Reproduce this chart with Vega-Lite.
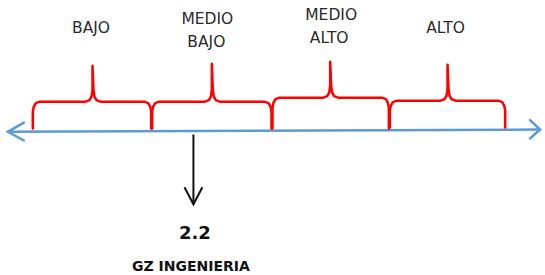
{
  "$schema": "https://vega.github.io/schema/vega-lite/v6.json",
  "width": 545,
  "height": 275,
  "autosize": {"type": "fit", "contains": "padding"},
  "padding": 0,
  "background": "#ffffff",
  "config": {"view": {"stroke": null}},
  "datasets": {
    "axis": [
      {"seg": "line", "o": 1, "x": 8, "y": 132.3},
      {"seg": "line", "o": 2, "x": 543, "y": 130},
      {"seg": "left", "o": 1, "x": 24, "y": 123},
      {"seg": "left", "o": 2, "x": 8, "y": 132.3},
      {"seg": "left", "o": 3, "x": 24, "y": 141},
      {"seg": "right", "o": 1, "x": 533, "y": 120.5},
      {"seg": "right", "o": 2, "x": 543, "y": 130},
      {"seg": "right", "o": 3, "x": 533, "y": 139}
    ],
    "braces": [
      {"b": 1, "o": 1, "x": 33, "y": 129}, {"b": 1, "o": 2, "x": 33, "y": 112}, {"b": 1, "o": 3, "x": 34, "y": 107}, {"b": 1, "o": 4, "x": 36, "y": 103.5}, {"b": 1, "o": 5, "x": 40, "y": 102},
      {"b": 1, "o": 6, "x": 86, "y": 102}, {"b": 1, "o": 7, "x": 90, "y": 100.5}, {"b": 1, "o": 8, "x": 92, "y": 97}, {"b": 1, "o": 9, "x": 93, "y": 90}, {"b": 1, "o": 10, "x": 93, "y": 66},
      {"b": 1, "o": 11, "x": 94, "y": 90}, {"b": 1, "o": 12, "x": 95, "y": 97}, {"b": 1, "o": 13, "x": 97, "y": 100.5}, {"b": 1, "o": 14, "x": 101, "y": 102}, {"b": 1, "o": 15, "x": 145, "y": 102},
      {"b": 1, "o": 16, "x": 149, "y": 103.5}, {"b": 1, "o": 17, "x": 151, "y": 107}, {"b": 1, "o": 18, "x": 152, "y": 112}, {"b": 1, "o": 19, "x": 152, "y": 129},

      {"b": 2, "o": 1, "x": 153, "y": 129}, {"b": 2, "o": 2, "x": 153, "y": 112}, {"b": 2, "o": 3, "x": 154, "y": 107}, {"b": 2, "o": 4, "x": 156, "y": 103.5}, {"b": 2, "o": 5, "x": 160, "y": 102},
      {"b": 2, "o": 6, "x": 206, "y": 102}, {"b": 2, "o": 7, "x": 210, "y": 100.5}, {"b": 2, "o": 8, "x": 212, "y": 97}, {"b": 2, "o": 9, "x": 213, "y": 90}, {"b": 2, "o": 10, "x": 213, "y": 64},
      {"b": 2, "o": 11, "x": 214, "y": 90}, {"b": 2, "o": 12, "x": 215, "y": 97}, {"b": 2, "o": 13, "x": 217, "y": 100.5}, {"b": 2, "o": 14, "x": 221, "y": 102}, {"b": 2, "o": 15, "x": 266, "y": 102},
      {"b": 2, "o": 16, "x": 270, "y": 103.5}, {"b": 2, "o": 17, "x": 272, "y": 107}, {"b": 2, "o": 18, "x": 273, "y": 112}, {"b": 2, "o": 19, "x": 273, "y": 129},

      {"b": 3, "o": 1, "x": 274, "y": 129}, {"b": 3, "o": 2, "x": 274, "y": 108}, {"b": 3, "o": 3, "x": 275, "y": 103}, {"b": 3, "o": 4, "x": 277, "y": 99.5}, {"b": 3, "o": 5, "x": 281, "y": 98},
      {"b": 3, "o": 6, "x": 325, "y": 98}, {"b": 3, "o": 7, "x": 329, "y": 96.5}, {"b": 3, "o": 8, "x": 331, "y": 93}, {"b": 3, "o": 9, "x": 332, "y": 86}, {"b": 3, "o": 10, "x": 332, "y": 62},
      {"b": 3, "o": 11, "x": 333, "y": 86}, {"b": 3, "o": 12, "x": 334, "y": 93}, {"b": 3, "o": 13, "x": 336, "y": 96.5}, {"b": 3, "o": 14, "x": 340, "y": 98}, {"b": 3, "o": 15, "x": 384, "y": 98},
      {"b": 3, "o": 16, "x": 388, "y": 99.5}, {"b": 3, "o": 17, "x": 390, "y": 103}, {"b": 3, "o": 18, "x": 391, "y": 108}, {"b": 3, "o": 19, "x": 391, "y": 129},

      {"b": 4, "o": 1, "x": 392, "y": 128}, {"b": 4, "o": 2, "x": 392, "y": 111}, {"b": 4, "o": 3, "x": 393, "y": 106}, {"b": 4, "o": 4, "x": 395, "y": 102.5}, {"b": 4, "o": 5, "x": 399, "y": 101},
      {"b": 4, "o": 6, "x": 443, "y": 101}, {"b": 4, "o": 7, "x": 447, "y": 99.5}, {"b": 4, "o": 8, "x": 449, "y": 96}, {"b": 4, "o": 9, "x": 450, "y": 89}, {"b": 4, "o": 10, "x": 450, "y": 65},
      {"b": 4, "o": 11, "x": 451, "y": 89}, {"b": 4, "o": 12, "x": 452, "y": 96}, {"b": 4, "o": 13, "x": 454, "y": 99.5}, {"b": 4, "o": 14, "x": 458, "y": 101}, {"b": 4, "o": 15, "x": 501, "y": 101},
      {"b": 4, "o": 16, "x": 505, "y": 102.5}, {"b": 4, "o": 17, "x": 507, "y": 106}, {"b": 4, "o": 18, "x": 508, "y": 111}, {"b": 4, "o": 19, "x": 508, "y": 128}
    ],
    "pointer": [
      {"seg": "shaft", "o": 1, "x": 194.5, "y": 135},
      {"seg": "shaft", "o": 2, "x": 194.5, "y": 205},
      {"seg": "head", "o": 1, "x": 185.5, "y": 188},
      {"seg": "head", "o": 2, "x": 194.5, "y": 205},
      {"seg": "head", "o": 3, "x": 203.5, "y": 188}
    ],
    "labels": [
      {"text": "BAJO", "x": 91.5, "y": 33},
      {"text": "MEDIO", "x": 208.5, "y": 24},
      {"text": "BAJO", "x": 207.5, "y": 47},
      {"text": "MEDIO", "x": 333, "y": 20},
      {"text": "ALTO", "x": 331, "y": 43},
      {"text": "ALTO", "x": 448, "y": 33}
    ],
    "value": [{"text": "2.2", "x": 196, "y": 240}],
    "brand": [{"text": "GZ INGENIERIA", "x": 192, "y": 272.3}]
  },
  "layer": [
    {
      "data": {"name": "axis"},
      "mark": {"type": "line", "color": "#5b9bd5", "strokeWidth": 2.5, "strokeCap": "round", "strokeJoin": "miter"},
      "encoding": {
        "x": {"field": "x", "type": "quantitative", "scale": {"domain": [0, 545], "nice": false, "zero": false}, "axis": null},
        "y": {"field": "y", "type": "quantitative", "scale": {"domain": [0, 275], "nice": false, "zero": false, "reverse": true}, "axis": null},
        "detail": {"field": "seg"},
        "order": {"field": "o"}
      }
    },
    {
      "data": {"name": "braces"},
      "mark": {"type": "line", "color": "#ff0000", "strokeWidth": 2.5, "strokeJoin": "round", "strokeCap": "round"},
      "encoding": {
        "x": {"field": "x", "type": "quantitative"},
        "y": {"field": "y", "type": "quantitative"},
        "detail": {"field": "b"},
        "order": {"field": "o"}
      }
    },
    {
      "data": {"name": "pointer"},
      "mark": {"type": "line", "color": "#111111", "strokeWidth": 2, "strokeJoin": "miter", "strokeCap": "butt"},
      "encoding": {
        "x": {"field": "x", "type": "quantitative"},
        "y": {"field": "y", "type": "quantitative"},
        "detail": {"field": "seg"},
        "order": {"field": "o"}
      }
    },
    {
      "data": {"name": "labels"},
      "mark": {"type": "text", "font": "DejaVu Sans", "fontSize": 15.5, "color": "#2a2a2a", "align": "center", "baseline": "alphabetic"},
      "encoding": {
        "x": {"field": "x", "type": "quantitative"},
        "y": {"field": "y", "type": "quantitative"},
        "text": {"field": "text"}
      }
    },
    {
      "data": {"name": "value"},
      "mark": {"type": "text", "font": "DejaVu Sans", "fontWeight": "bold", "fontSize": 18, "color": "#111111", "align": "center", "baseline": "alphabetic"},
      "encoding": {
        "x": {"field": "x", "type": "quantitative"},
        "y": {"field": "y", "type": "quantitative"},
        "text": {"field": "text"}
      }
    },
    {
      "data": {"name": "brand"},
      "mark": {"type": "text", "font": "DejaVu Sans", "fontWeight": "bold", "fontSize": 14, "color": "#111111", "align": "center", "baseline": "alphabetic"},
      "encoding": {
        "x": {"field": "x", "type": "quantitative"},
        "y": {"field": "y", "type": "quantitative"},
        "text": {"field": "text"}
      }
    }
  ]
}
